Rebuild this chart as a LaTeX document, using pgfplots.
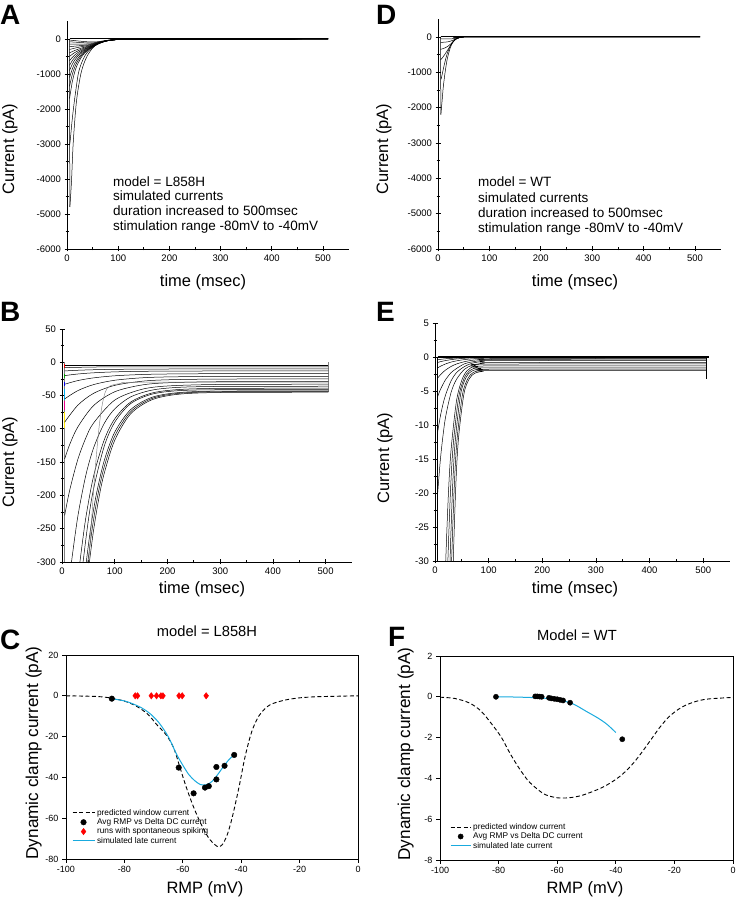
\documentclass[border=0pt]{standalone}
\usepackage{fontspec}
\setmainfont{Liberation Sans}
\usepackage{pgfplots}
\pgfplotsset{compat=1.18}
\definecolor{simblue}{RGB}{25,170,222}
\pgfplotsset{
  base/.style={scale only axis, /pgf/number format/assume math mode=true, /pgf/number format/1000 sep={},
    tick style={black, line width=0.7pt}, tick align=outside, major tick length=5pt, minor tick length=3pt},
  orig/.style={base, axis lines=left, axis line style={-, line width=0.9pt},
    ticklabel style={font=\fontsize{9.5}{11}\selectfont},
    xmin=0, xmax=550, xtick={0,100,...,500}, minor x tick num=1, minor y tick num=1},
  sig/.style={base, axis line style={line width=0.8pt}, xtick pos=left, ytick pos=left,
    ticklabel style={font=\fontsize{9}{10}\selectfont}, major tick length=4pt,
    xmin=-100, xmax=0, xtick={-100,-80,...,0}},
  cur/.style={black, smooth, tension=0.5, line width=0.5pt},
  sharp/.style={black, line width=0.5pt},
  limgline/.style={legend image code/.code={\draw[##1] (0pt,0pt) -- (#1,0pt);}},
  limgblue/.style={legend image code/.code={\draw[draw=simblue, line width=1pt] (0pt,0pt) -- (#1,0pt);}},
  limgmarkA/.style={legend image code/.code={\draw[##1,mark repeat=2,mark phase=2] plot coordinates {(0pt,0pt)(11pt,0pt)(22pt,0pt)};}},
  limgmarkB/.style={legend image code/.code={\draw[##1,mark repeat=2,mark phase=2] plot coordinates {(0pt,0pt)(10pt,0pt)(20pt,0pt)};}},
}
\newcommand{\lbl}[1]{\fontsize{16.5}{18}\selectfont #1}
\begin{document}
\begin{tikzpicture}
\useasboundingbox (0,0) rectangle (736pt,901pt);

% ---------------- Panel A
\begin{axis}[orig, at={(67pt,652pt)}, anchor=south west, width=281.6pt, height=227.5pt,
  ymin=-6000, ymax=500, ytick={-6000,-5000,...,0}]
\addplot[sharp, line width=1pt] coordinates {(5,0)(510,0)};
\addplot[sharp] coordinates {(5,0)(5.5,-4800)};
\addplot[cur] coordinates {(5.5,-4800)(7,-4500)(9,-4000)(12,-3000)(17,-2000)(21,-1500)(27,-1000)(33,-700)(40,-470)(50,-260)(60,-140)(70,-75)(80,-38)(90,-18)(100,-8)(115,-3)(140,0)(510,0)};
\addplot[cur] coordinates {(5.5,-3000)(7,-2800)(9.5,-2400)(12.5,-2000)(16,-1600)(22,-1000)(28,-700)(35,-480)(42,-340)(50,-240)(60,-140)(70,-75)(80,-38)(90,-18)(100,-8)(115,-3)(140,0)(510,0)};
\addplot[cur] coordinates {(5,-1700)(10,-1250)(15,-950)(20,-740)(30,-480)(40,-330)(50,-230)(60,-150)(70,-90)(80,-50)(100,-15)(130,-3)(510,0)};
\addplot[cur] coordinates {(5,-1350)(10,-1030)(15,-810)(20,-650)(30,-440)(40,-310)(50,-220)(60,-145)(70,-88)(80,-50)(100,-15)(130,-3)(510,0)};
\addplot[cur] coordinates {(5,-1100)(10,-870)(15,-700)(20,-580)(30,-405)(40,-295)(50,-212)(60,-140)(70,-86)(80,-49)(100,-15)(130,-3)(510,0)};
\addplot[cur] coordinates {(5,-900)(10,-730)(15,-605)(20,-510)(30,-370)(40,-278)(50,-205)(60,-137)(70,-84)(80,-48)(100,-15)(130,-3)(510,0)};
\addplot[cur] coordinates {(5,-750)(10,-625)(15,-530)(20,-455)(30,-340)(40,-262)(50,-198)(60,-134)(70,-82)(80,-47)(100,-15)(130,-3)(510,0)};
\addplot[cur] coordinates {(5,-620)(10,-530)(15,-460)(20,-400)(30,-310)(40,-245)(50,-190)(60,-130)(70,-80)(80,-46)(100,-14)(130,-3)(510,0)};
\addplot[cur] coordinates {(5,-500)(10,-440)(15,-390)(20,-350)(30,-280)(40,-228)(50,-182)(60,-126)(70,-78)(80,-45)(100,-14)(130,-3)(510,0)};
\addplot[cur] coordinates {(5,-400)(10,-360)(15,-330)(20,-300)(30,-250)(40,-210)(50,-172)(60,-122)(70,-76)(80,-44)(100,-14)(130,-3)(510,0)};
\addplot[cur] coordinates {(5,-300)(10,-280)(15,-262)(20,-245)(30,-215)(40,-188)(50,-160)(60,-116)(70,-74)(80,-43)(100,-14)(130,-3)(510,0)};
\addplot[cur] coordinates {(5,-220)(10,-212)(15,-205)(20,-198)(30,-185)(40,-168)(50,-148)(60,-110)(70,-71)(80,-42)(100,-13)(130,-3)(510,0)};
\addplot[cur] coordinates {(5,-150)(10,-150)(15,-150)(20,-150)(30,-148)(40,-142)(50,-132)(60,-103)(70,-68)(80,-40)(100,-13)(130,-3)(510,0)};
\addplot[cur] coordinates {(5,-80)(10,-85)(15,-90)(20,-95)(30,-105)(40,-112)(50,-112)(60,-92)(70,-63)(80,-38)(100,-12)(130,-3)(510,0)};
\addplot[cur] coordinates {(5,-30)(10,-38)(15,-46)(20,-54)(30,-68)(40,-80)(50,-85)(60,-78)(70,-57)(80,-35)(100,-11)(130,-3)(510,0)};
\end{axis}

% ---------------- Panel D
\begin{axis}[orig, at={(438pt,652pt)}, anchor=south west, width=282.7pt, height=229.7pt,
  ymin=-6000, ymax=500, ytick={-6000,-5000,...,0}]
\addplot[sharp, line width=1pt] coordinates {(5,0)(510,0)};
\addplot[sharp] coordinates {(5,0)(5.5,-2200)};
\addplot[cur] coordinates {(5.5,-2200)(8,-1800)(10,-1450)(12,-1200)(14,-980)(17,-700)(20,-500)(24,-300)(28,-170)(32,-90)(36,-45)(42,-15)(50,-4)(60,0)(510,0)};
\addplot[cur] coordinates {(6,-1200)(9,-1000)(12,-800)(15,-620)(18,-470)(21,-350)(24,-250)(28,-150)(32,-85)(36,-45)(42,-15)(50,-4)(60,0)(510,0)};
\addplot[cur] coordinates {(5,-650)(9,-580)(13,-500)(17,-410)(21,-320)(25,-230)(29,-150)(33,-85)(37,-45)(42,-18)(50,-4)(60,0)(510,0)};
\addplot[cur] coordinates {(5,-350)(10,-330)(15,-300)(20,-255)(25,-195)(29,-135)(33,-82)(37,-44)(42,-18)(50,-4)(60,0)(510,0)};
\addplot[cur] coordinates {(5,-150)(10,-150)(15,-145)(20,-135)(25,-115)(29,-92)(33,-66)(37,-40)(42,-18)(50,-4)(60,0)(510,0)};
\addplot[cur] coordinates {(5,-50)(15,-55)(25,-55)(33,-42)(42,-17)(50,-4)(60,0)(510,0)};
\end{axis}

% ---------------- Panel B
\begin{axis}[orig, at={(62pt,339pt)}, anchor=south west, width=290pt, height=233pt,
  ymin=-300, ymax=50, ytick={-300,-250,...,50}]
\addplot[sharp, gray] coordinates {(5,0)(5,-300)};
\addplot[red, line width=0.7pt] coordinates {(5,-3)(5,-8)};
\addplot[green!70!black, line width=0.7pt] coordinates {(5,-18)(5,-24)};
\addplot[blue, line width=0.7pt] coordinates {(5,-30)(5,-36)};
\addplot[cyan, line width=0.7pt] coordinates {(5,-40)(5,-56)};
\addplot[magenta, line width=0.7pt] coordinates {(5,-58)(5,-72)};
\addplot[yellow!90!orange, line width=0.7pt] coordinates {(5,-75)(5,-98)};
\addplot[sharp, gray] coordinates {(505,0)(505,-45)};
\addplot[sharp] coordinates {(5,-5)(505,-5)};
\addplot[cur] coordinates {(5,-8)(50,-7.3)(100,-7.05)(505,-7)};
\addplot[cur] coordinates {(5,-13)(30,-12)(60,-11.2)(100,-10.6)(150,-10.3)(200,-10.1)(505,-10)};
\addplot[cur] coordinates {(5,-20)(30,-17.6)(60,-15.8)(100,-14.4)(150,-13.6)(200,-13.3)(300,-13.05)(505,-13)};
\addplot[cur] coordinates {(5,-33)(30,-27.5)(60,-23.4)(100,-20.3)(150,-18.4)(200,-17.6)(300,-17.1)(505,-17)};
\addplot[cur] coordinates {(5,-55)(30,-42.6)(60,-33.5)(100,-27)(150,-23.4)(200,-22)(300,-21.2)(505,-21)};
\addplot[cur] coordinates {(5,-90)(30,-64.5)(60,-46.6)(100,-34.7)(150,-28.6)(200,-26.3)(300,-25.2)(505,-25)};
\addplot[cur] coordinates {(5,-145)(15,-122.7)(30,-97.2)(60,-65)(100,-44.3)(150,-34.3)(200,-30.8)(300,-29.2)(505,-29)};
\addplot[cur] coordinates {(5,-230)(15,-190.8)(30,-146)(45,-114)(60,-91.1)(100,-56.8)(150,-40.9)(200,-35.6)(300,-33.3)(505,-33)};
\addplot[cur] coordinates {(14,-327.7)(18,-300)(30,-231.6)(45,-170.4)(60,-128.4)(80,-92)(100,-70)(130,-52.1)(170,-41.9)(220,-37.7)(300,-36.3)(505,-36)};
\addplot[cur] coordinates {(30,-329)(34,-300)(45,-234.5)(60,-170.6)(80,-116.8)(100,-85)(130,-59.9)(170,-46.3)(220,-41)(300,-39.2)(505,-39)};
\addplot[cur] coordinates {(36,-330)(40,-300)(50,-237.1)(60,-189.6)(80,-126.3)(100,-90)(130,-62.2)(170,-48)(220,-42.7)(300,-41.2)(505,-41)};
\addplot[cur] coordinates {(42,-328.5)(46,-300)(55,-245.8)(65,-199)(80,-148.1)(100,-105)(130,-71.3)(170,-52.8)(220,-45.6)(300,-43.3)(505,-43)};
\addplot[cur] coordinates {(45,-328.4)(49,-300)(58,-246)(68,-199.4)(80,-157.2)(100,-110.9)(130,-74.5)(170,-54.6)(220,-46.8)(300,-44.3)(505,-44)};
\addplot[cur] coordinates {(48,-328.3)(52,-300)(60,-251.6)(70,-203.9)(80,-167.1)(100,-117.2)(130,-77.6)(170,-56.5)(220,-48.1)(300,-45.4)(505,-45)};
\addplot[gray, smooth, line width=0.45pt] coordinates {(50,-310)(55,-250)(62,-170)(70,-100)(76,-65)(82,-45)(90,-36)(110,-32)(150,-30)(505,-30)};
\end{axis}

% ---------------- Panel E
\begin{axis}[orig, at={(435pt,340pt)}, anchor=south west, width=295pt, height=238pt,
  ymin=-30, ymax=5, ytick={-30,-25,...,5}]
\addplot[sharp, line width=1.6pt] coordinates {(5,0)(510,0)};
\addplot[sharp] coordinates {(5,0)(5,-31)};
\addplot[sharp] coordinates {(505,0)(505,-3.3)};
\addplot[cur] coordinates {(5,-0.4)(10,-0.35)(15,-0.3)(20,-0.26)(30,-0.2)(40,-0.15)(55,-0.1)(70,-0.06)(90,-0.04)(120,-0.02)(505,0)};
\addplot[cur] coordinates {(5,-0.8)(10,-0.69)(15,-0.6)(20,-0.52)(30,-0.39)(40,-0.29)(55,-0.19)(70,-0.12)(90,-0.07)(120,-0.03)(505,0)};
\addplot[cur] coordinates {(5,-1.6)(10,-1.37)(15,-1.18)(20,-1.01)(30,-0.75)(40,-0.57)(55,-0.38)(70,-0.27)(90,-0.19)(120,-0.13)(505,-0.1)};
\addplot[cur] coordinates {(5,-3.1)(10,-2.62)(15,-2.23)(20,-1.9)(30,-1.39)(40,-1.03)(55,-0.69)(70,-0.48)(90,-0.34)(120,-0.25)(505,-0.2)};
\addplot[cur] coordinates {(5,-5.8)(10,-4.8)(15,-4)(20,-3.3)(30,-2.3)(40,-1.7)(55,-1)(70,-0.71)(90,-0.48)(120,-0.36)(505,-0.3)};
\addplot[cur] coordinates {(5,-11)(10,-8.7)(15,-6.9)(20,-5.5)(30,-3.5)(40,-2.3)(55,-1.4)(70,-0.9)(90,-0.65)(120,-0.53)(505,-0.5)};
\addplot[cur] coordinates {(5,-20)(10,-15.1)(15,-11.5)(20,-8.7)(30,-5.2)(40,-3.3)(55,-1.8)(70,-1.2)(90,-0.93)(120,-0.82)(505,-0.8)};
\addplot[cur] coordinates {(17,-38.2)(20,-30)(25,-20.1)(30,-13.6)(40,-6.5)(50,-3.4)(60,-2)(75,-1.3)(100,-1.05)(505,-1)};
\addplot[cur] coordinates {(21,-39)(24,-30)(29,-19.5)(34,-12.9)(44,-6)(54,-3.2)(64,-2.05)(80,-1.47)(100,-1.32)(505,-1.3)};
\addplot[cur] coordinates {(25,-39.9)(28,-30)(33,-18.8)(38,-12.1)(48,-5.4)(58,-3)(68,-2.1)(85,-1.7)(100,-1.6)(505,-1.6)};
\addplot[cur] coordinates {(28,-39.9)(31,-30)(36,-18.9)(41,-12.2)(51,-5.6)(61,-3.2)(71,-2.3)(88,-1.9)(110,-1.8)(505,-1.8)};
\addplot[cur] coordinates {(31,-40.4)(34,-30)(39,-18.5)(44,-11.8)(54,-5.4)(64,-3.2)(74,-2.4)(90,-2.1)(110,-2)(505,-2)};
\end{axis}

% ---------------- Panel C
\begin{axis}[sig, at={(66pt,42pt)}, anchor=south west, width=292pt, height=204pt,
  ymin=-80, ymax=20, ytick={-80,-60,...,20},
  legend style={at={(0.02,0.255)}, anchor=north west, draw=none, fill=none,
    font=\fontsize{8.3}{9}\selectfont, row sep=-2.2pt, inner sep=0pt}, legend cell align=left]
\addplot[black, dashed, dash pattern=on 4pt off 2.5pt, line width=0.9pt, smooth, limgline=22pt] coordinates {
  (-100,0)(-90,-0.3)(-85,-1)(-80,-2.6)(-76,-5)(-72,-9)(-69,-14)(-65.5,-19.5)(-63,-26)(-61,-35)(-59,-44)(-57,-52)(-55,-59)(-53,-65)(-51,-70)(-49,-73)(-47.8,-74)(-46.5,-73)(-45,-69)(-43.5,-62)(-42,-53)(-40.5,-43)(-39,-32)(-37.5,-23)(-36,-16)(-34,-10)(-32,-6.5)(-30,-4.3)(-27,-2.8)(-24,-1.8)(-20,-1)(-15,-0.5)(-10,-0.3)(0,0)};
\addlegendentry{predicted window current}
\addplot[only marks, mark=*, mark size=2.8pt, black, limgmarkA] coordinates {
  (-84.3,-1.4)(-61.4,-35.2)(-56.3,-47.8)(-52.4,-45)(-51.1,-44.3)(-48.5,-41)(-48.5,-34.9)(-45.7,-34.3)(-42.4,-29)};
\addlegendentry{Avg RMP vs Delta DC current}
\addplot[only marks, mark=diamond*, mark size=3.2pt, red, limgmarkA] coordinates {
  (-76.3,0)(-75.5,0)(-70.8,0)(-69,0)(-67.5,0)(-66.8,0)(-61.3,0)(-60.2,0)(-52,0)};
\addlegendentry{runs with spontaneous spiking}
\addplot[simblue, line width=1pt, smooth, limgblue=22pt] coordinates {
  (-84,-1.5)(-80,-2.5)(-77,-4)(-74,-6)(-71,-9)(-68,-13.5)(-65,-20)(-62,-29)(-60,-34)(-58,-38.5)(-56,-41.5)(-54,-43.5)(-52,-43.6)(-50,-42)(-48,-38.5)(-46,-34.5)(-44,-31)(-42,-28.5)};
\addlegendentry{simulated late current}
\end{axis}

% ---------------- Panel F
\begin{axis}[sig, at={(440pt,41pt)}, anchor=south west, width=293pt, height=204pt,
  ymin=-8, ymax=2, ytick={-8,-6,...,2},
  legend style={at={(0.034,0.19)}, anchor=north west, draw=none, fill=none,
    font=\fontsize{8.3}{9}\selectfont, row sep=-2.2pt, inner sep=0pt}, legend cell align=left]
\addplot[black, dashed, dash pattern=on 4pt off 2.5pt, line width=0.9pt, smooth, limgline=20pt] coordinates {
  (-100,-0.02)(-95,-0.08)(-90,-0.3)(-86,-0.7)(-82,-1.4)(-79,-2)(-76,-2.8)(-73,-3.5)(-70,-4.1)(-67,-4.5)(-64,-4.8)(-60,-4.95)(-56,-4.95)(-52,-4.85)(-48,-4.65)(-44,-4.4)(-40,-4.05)(-37,-3.7)(-34,-3.25)(-31,-2.7)(-28,-2.1)(-25,-1.5)(-22,-1)(-19,-0.65)(-16,-0.4)(-12,-0.2)(-8,-0.1)(0,-0.03)};
\addlegendentry{predicted window current}
\addplot[only marks, mark=*, mark size=2.6pt, black, limgmarkB] coordinates {
  (-80.9,0)(-67.5,0.02)(-66.8,0.02)(-66,0.01)(-65.3,0)(-62.8,-0.05)(-62,-0.08)(-61,-0.1)(-60,-0.12)(-59,-0.15)(-58,-0.18)(-55.6,-0.29)(-37.8,-2.08)};
\addlegendentry{Avg RMP vs Delta DC current}
\addplot[simblue, line width=1pt, smooth, limgblue=20pt] coordinates {
  (-81,0)(-75,-0.01)(-70,-0.03)(-65,-0.06)(-60,-0.15)(-55,-0.32)(-50,-0.72)(-46,-1.05)(-43,-1.35)(-40,-1.75)};
\addlegendentry{simulated late current}
\end{axis}

% ---------------- Panel letters
\begin{scope}[every node/.style={inner sep=0pt, font=\fontsize{28}{30}\selectfont\bfseries}]
\node[anchor=base west] at (0pt,876pt) {A};
\node[anchor=base west] at (376pt,876pt) {D};
\node[anchor=base west] at (0pt,579pt) {B};
\node[anchor=base west] at (376pt,579pt) {E};
\node[anchor=base west] at (0pt,251pt) {C};
\node[anchor=base west] at (388pt,254pt) {F};
\end{scope}

% ---------------- Axis labels
\begin{scope}[every node/.style={inner sep=0pt}]
\node[anchor=base] at (203pt,614pt) {\lbl{time (msec)}};
\node[anchor=base] at (575pt,614pt) {\lbl{time (msec)}};
\node[anchor=base] at (202pt,307pt) {\lbl{time (msec)}};
\node[anchor=base] at (575pt,307pt) {\lbl{time (msec)}};
\node[anchor=base] at (205pt,7pt) {\lbl{RMP (mV)}};
\node[anchor=base] at (585pt,8pt) {\lbl{RMP (mV)}};
\node[anchor=base, rotate=90] at (14pt,752pt) {\lbl{Current (pA)}};
\node[anchor=base, rotate=90] at (388pt,752pt) {\lbl{Current (pA)}};
\node[anchor=base, rotate=90] at (14pt,439pt) {\lbl{Current (pA)}};
\node[anchor=base, rotate=90] at (389pt,443pt) {\lbl{Current (pA)}};
\node[anchor=base, rotate=90] at (38pt,148pt) {\fontsize{17.2}{19}\selectfont Dynamic clamp current (pA)};
\node[anchor=base, rotate=90] at (410pt,147pt) {\fontsize{17.2}{19}\selectfont Dynamic clamp current (pA)};
\node[anchor=base] at (207pt,264pt) {\fontsize{14.7}{16}\selectfont model = L858H};
\node[anchor=base] at (577pt,260pt) {\fontsize{14.7}{16}\selectfont Model = WT};
\end{scope}

% ---------------- Annotation text
\begin{scope}[every node/.style={inner sep=0pt, anchor=base west, font=\fontsize{13.5}{15}\selectfont}]
\node at (113pt,714pt) {model = L858H};
\node at (113pt,700pt) {simulated currents};
\node at (113pt,685pt) {duration increased to 500msec};
\node at (113pt,670pt) {stimulation range -80mV to -40mV};
\node at (478pt,714pt) {model = WT};
\node at (478pt,698pt) {simulated currents};
\node at (478pt,683pt) {duration increased to 500msec};
\node at (478pt,668pt) {stimulation range -80mV to -40mV};
\end{scope}
\end{tikzpicture}
\end{document}
